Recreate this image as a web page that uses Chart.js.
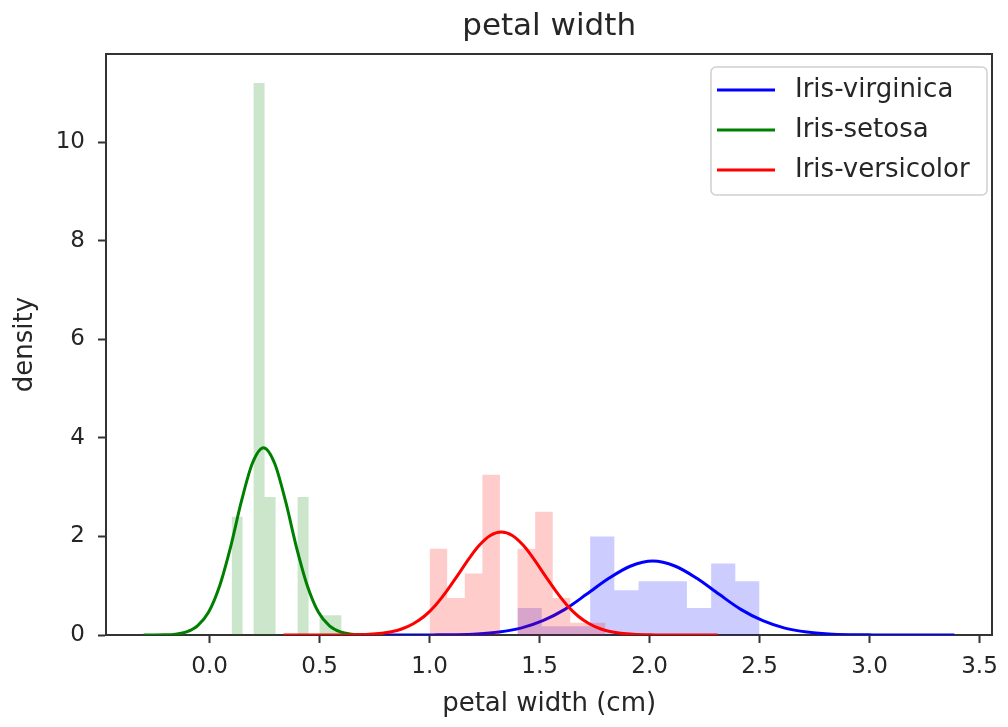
<!DOCTYPE html>
<html>
<head>
<meta charset="utf-8">
<title>petal width</title>
<script src="https://cdn.jsdelivr.net/npm/chart.js@4.4.0/dist/chart.umd.min.js"></script>
<style>
  html, body { margin: 0; padding: 0; background: #fff; }
</style>
</head>
<body>
<canvas id="chart" width="1008" height="727"></canvas>
<script>
const species = ["Iris-virginica", "Iris-setosa", "Iris-versicolor"];
const lineColors = ["#0000ff", "#008000", "#ff0000"];
const barColors = ["rgba(0,0,255,0.2)", "rgba(0,128,0,0.2)", "rgba(255,0,0,0.2)"];

const xTicks = [0.0, 0.5, 1.0, 1.5, 2.0, 2.5, 3.0, 3.5];
const yTicks = [0, 2, 4, 6, 8, 10];
const xMin = -0.471, xMax = 3.558, yMax = 11.79;

// histogram bin edges + density per bin
const virginicaEdges = [1.40, 1.51, 1.62, 1.73, 1.84, 1.95, 2.06, 2.17, 2.28, 2.39, 2.50];
const virginicaDensity = [0.55, 0.18, 0.18, 2.0, 0.91, 1.09, 1.09, 0.55, 1.45, 1.09];
const setosaEdges = [0.10, 0.15, 0.20, 0.25, 0.30, 0.35, 0.40, 0.45, 0.50, 0.55, 0.60];
const setosaDensity = [2.4, 0, 11.2, 2.8, 0, 0, 2.8, 0, 0.4, 0.4];
const versicolorEdges = [1.00, 1.08, 1.16, 1.24, 1.32, 1.40, 1.48, 1.56, 1.64, 1.72, 1.80];
const versicolorDensity = [1.75, 0.75, 1.25, 3.25, 0, 1.75, 2.5, 0.75, 0.25, 0.25];

// fitted curves
const virginicaCurveX = [0.644, 0.915, 1.015, 1.115, 1.215, 1.315, 1.415, 1.515, 1.615, 1.715, 1.815, 1.915, 2.015, 2.115, 2.215, 2.315, 2.415, 2.515, 2.615, 2.715, 2.815, 2.915, 3.015, 3.115, 3.386];
const virginicaCurveY = [0, 0, 0.002, 0.007, 0.022, 0.059, 0.139, 0.29, 0.52, 0.83, 1.15, 1.40, 1.50, 1.40, 1.15, 0.83, 0.52, 0.29, 0.139, 0.059, 0.022, 0.007, 0.002, 0, 0];
const setosaCurveX = [-0.30, -0.205, -0.155, -0.105, -0.055, -0.005, 0.045, 0.095, 0.145, 0.195, 0.245, 0.295, 0.345, 0.395, 0.445, 0.495, 0.545, 0.595, 0.645, 0.695, 0.79];
const setosaCurveY = [0, 0.004, 0.018, 0.062, 0.185, 0.46, 0.99, 1.78, 2.72, 3.49, 3.80, 3.49, 2.72, 1.78, 0.99, 0.46, 0.185, 0.062, 0.018, 0.004, 0];
const versicolorCurveX = [0.336, 0.526, 0.626, 0.726, 0.826, 0.876, 0.926, 0.976, 1.026, 1.076, 1.126, 1.176, 1.226, 1.276, 1.326, 1.376, 1.426, 1.476, 1.526, 1.576, 1.626, 1.676, 1.726, 1.776, 1.826, 1.926, 2.026, 2.126, 2.31];
const versicolorCurveY = [0, 0, 0.002, 0.014, 0.066, 0.127, 0.228, 0.38, 0.60, 0.88, 1.20, 1.53, 1.82, 2.02, 2.09, 2.02, 1.82, 1.53, 1.20, 0.88, 0.60, 0.38, 0.228, 0.127, 0.066, 0.014, 0.002, 0, 0];

const textColor = "#262626";
const axisColor = "#333333";

Chart.defaults.font.family = "'DejaVu Sans', sans-serif";

function histPoints(edges, dens) {
  const pts = [];
  dens.forEach((d, i) => {
    pts.push({ x: edges[i], y: d });
    pts.push({ x: edges[i + 1], y: d });
  });
  return pts;
}

function curvePoints(xs, ys) {
  return xs.map((x, i) => ({ x: x, y: ys[i] }));
}

// little line image for the legend, with room after it
function legendLine(color) {
  const c = document.createElement("canvas");
  c.width = 65;
  c.height = 6;
  const g = c.getContext("2d");
  g.strokeStyle = color;
  g.lineWidth = 3;
  g.beginPath();
  g.moveTo(0, 3);
  g.lineTo(58, 3);
  g.stroke();
  return c;
}

function histDataset(i, edges, dens, order) {
  return {
    label: species[i] + " hist",
    isHist: true,
    data: histPoints(edges, dens),
    fill: "origin",
    backgroundColor: barColors[i],
    borderColor: "rgba(0,0,0,0)",
    borderWidth: 0,
    pointRadius: 0,
    order: order,
  };
}

function curveDataset(i, xs, ys, order) {
  return {
    label: species[i],
    data: curvePoints(xs, ys),
    fill: false,
    borderColor: lineColors[i],
    backgroundColor: lineColors[i],
    borderWidth: 3,
    pointRadius: 0,
    pointStyle: legendLine(lineColors[i]),
    cubicInterpolationMode: "monotone",
    order: order,
  };
}

const datasets = [
  histDataset(0, virginicaEdges, virginicaDensity, 6),
  curveDataset(0, virginicaCurveX, virginicaCurveY, 5),
  histDataset(1, setosaEdges, setosaDensity, 4),
  curveDataset(1, setosaCurveX, setosaCurveY, 3),
  histDataset(2, versicolorEdges, versicolorDensity, 2),
  curveDataset(2, versicolorCurveX, versicolorCurveY, 1),
];

const tickGrid = {
  display: true,
  drawOnChartArea: false,
  drawTicks: true,
  tickLength: 8,
  tickColor: axisColor,
  tickWidth: 2,
};
const frameBorder = { display: true, color: axisColor, width: 2 };

// legend sits in the upper right of the plot, with a light frame
const legendPlace = {
  id: "legendPlace",
  afterLayout(chart) {
    const lg = chart.legend;
    lg.left = 703;
    lg.right = 703 + lg.width;
    lg.top = 63;
    lg.bottom = chart.chartArea.bottom;
  },
  beforeDraw(chart) {
    const ctx = chart.ctx;
    ctx.save();
    ctx.fillStyle = "rgba(255,255,255,0.8)";
    ctx.strokeStyle = "#d0d0d0";
    ctx.lineWidth = 1.5;
    ctx.beginPath();
    ctx.roundRect(711, 67, 276, 128, 5);
    ctx.fill();
    ctx.stroke();
    ctx.restore();
  },
};

new Chart(document.getElementById("chart"), {
  type: "line",
  data: { datasets },
  plugins: [legendPlace],
  options: {
    responsive: false,
    animation: false,
    devicePixelRatio: 1,
    layout: { padding: 0 },
    plugins: {
      tooltip: { enabled: false },
      title: {
        display: true,
        fullSize: false,
        text: "petal width",
        color: textColor,
        font: { size: 31, weight: "normal" },
        padding: { top: 8.4, bottom: 8.4 },
      },
      legend: {
        position: "chartArea",
        align: "start",
        labels: {
          usePointStyle: true,
          pointStyleWidth: 65,
          padding: 14,
          color: textColor,
          font: { size: 26 },
          filter: (item, data) => !data.datasets[item.datasetIndex].isHist,
          sort: (a, b) => a.datasetIndex - b.datasetIndex,
        },
      },
    },
    scales: {
      x: {
        type: "linear",
        position: "bottom",
        min: xMin,
        max: xMax,
        afterBuildTicks: (s) => { s.ticks = xTicks.map((v) => ({ value: v })); },
        afterFit: (s) => { s.height = 92; },
        grid: tickGrid,
        border: frameBorder,
        ticks: {
          color: textColor,
          font: { size: 23 },
          padding: 10,
          maxRotation: 0,
          autoSkip: false,
          callback: (v) => Number(v).toFixed(1),
        },
        title: {
          display: true,
          text: "petal width (cm)",
          color: textColor,
          font: { size: 26 },
          padding: { top: 0, bottom: 7.4 },
        },
      },
      y: {
        type: "linear",
        position: "left",
        min: 0,
        max: yMax,
        afterBuildTicks: (s) => { s.ticks = yTicks.map((v) => ({ value: v })); },
        afterFit: (s) => { s.width = 106; },
        grid: tickGrid,
        border: frameBorder,
        ticks: {
          color: textColor,
          font: { size: 23 },
          padding: 13,
          callback: (v) => String(v),
        },
        title: {
          display: true,
          text: "density",
          color: textColor,
          font: { size: 26 },
          padding: { top: 9.4, bottom: 0 },
        },
      },
      xTop: {
        type: "linear",
        position: "top",
        min: xMin,
        max: xMax,
        ticks: { display: false },
        grid: { display: false },
        border: frameBorder,
        afterFit: (s) => { s.height = 0; },
      },
      yRight: {
        type: "linear",
        position: "right",
        min: 0,
        max: yMax,
        ticks: { display: false },
        grid: { display: false },
        border: frameBorder,
        afterFit: (s) => { s.width = 10; },
      },
    },
  },
});
</script>
</body>
</html>
